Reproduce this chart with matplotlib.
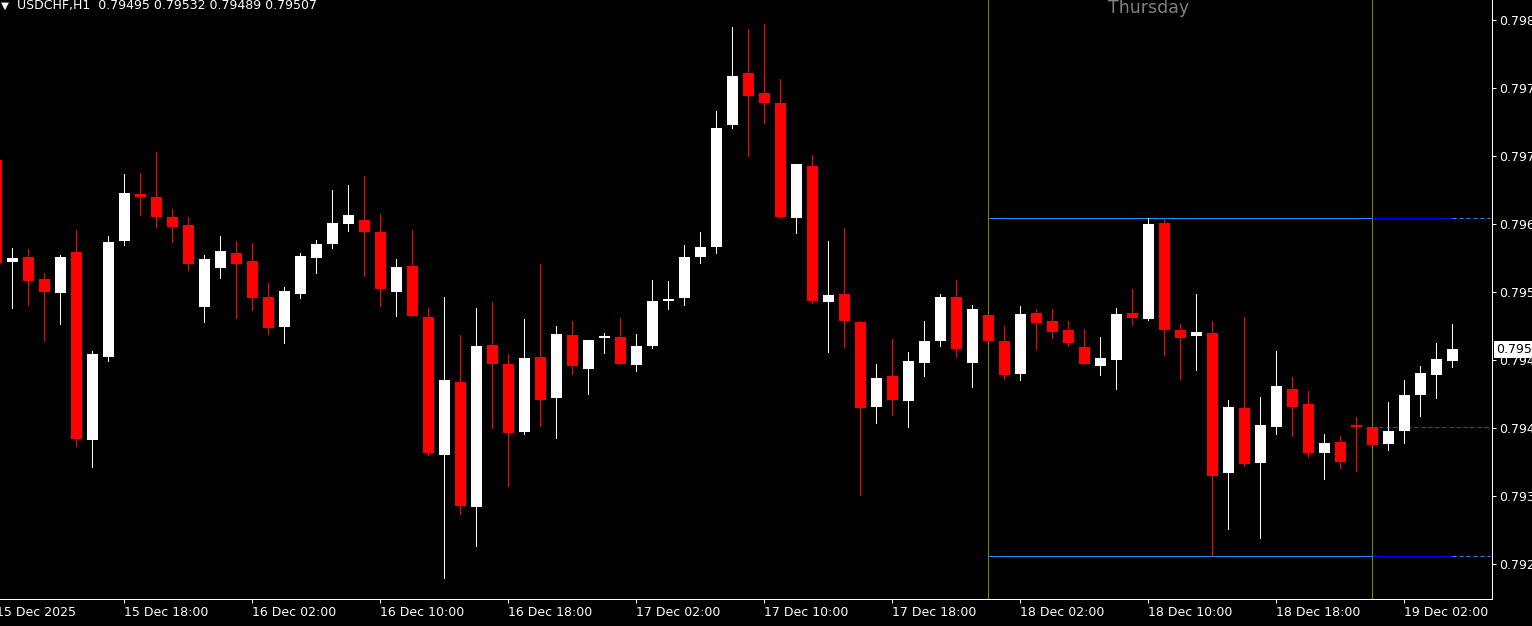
import numpy as np
import pandas as pd
import matplotlib
matplotlib.use("Agg")
import matplotlib.pyplot as plt
import matplotlib.transforms as mtransforms

# ---------------- data ----------------
symbol = "USDCHF,H1"
first_bar = "2025-12-15 10:00"

opens = [0.79696, 0.79594, 0.79599, 0.79577, 0.79563, 0.79604, 0.79416, 0.79499, 0.79615, 0.79662,
         0.79659, 0.79639, 0.79631, 0.79549, 0.79588, 0.79603, 0.79595, 0.79559, 0.79529, 0.79562,
         0.79598, 0.79612, 0.79632, 0.79636, 0.79624, 0.79564, 0.79590, 0.79539, 0.79401, 0.79474,
         0.79349, 0.79511, 0.79492, 0.79424, 0.79499, 0.79458, 0.79521, 0.79487, 0.79518, 0.79519,
         0.79491, 0.79510, 0.79555, 0.79558, 0.79599, 0.79609, 0.79731, 0.79783, 0.79763, 0.79753,
         0.79638, 0.79690, 0.79554, 0.79562, 0.79534, 0.79449, 0.79480, 0.79455, 0.79493, 0.79515,
         0.79559, 0.79493, 0.79541, 0.79515, 0.79482, 0.79543, 0.79535, 0.79526, 0.79509, 0.79490,
         0.79496, 0.79543, 0.79537, 0.79633, 0.79526, 0.79520, 0.79523, 0.79383, 0.79448, 0.79393,
         0.79429, 0.79467, 0.79452, 0.79403, 0.79414, 0.79431, 0.79429, 0.79412, 0.79425, 0.79461,
         0.79481, 0.79495]
highs = [0.79700, 0.79608, 0.79607, 0.79583, 0.79601, 0.79626, 0.79505, 0.79620, 0.79682, 0.79683,
         0.79704, 0.79647, 0.79639, 0.79601, 0.79620, 0.79615, 0.79613, 0.79573, 0.79569, 0.79603,
         0.79616, 0.79666, 0.79671, 0.79680, 0.79642, 0.79597, 0.79626, 0.79548, 0.79559, 0.79521,
         0.79548, 0.79554, 0.79502, 0.79537, 0.79592, 0.79530, 0.79535, 0.79516, 0.79523, 0.79538,
         0.79522, 0.79576, 0.79575, 0.79611, 0.79624, 0.79745, 0.79829, 0.79827, 0.79832, 0.79777,
         0.79692, 0.79701, 0.79615, 0.79628, 0.79535, 0.79492, 0.79517, 0.79504, 0.79535, 0.79562,
         0.79576, 0.79551, 0.79541, 0.79530, 0.79550, 0.79547, 0.79547, 0.79535, 0.79527, 0.79519,
         0.79548, 0.79567, 0.79638, 0.79637, 0.79532, 0.79562, 0.79535, 0.79456, 0.79539, 0.79459,
         0.79505, 0.79479, 0.79465, 0.79422, 0.79420, 0.79439, 0.79429, 0.79454, 0.79476, 0.79490,
         0.79513, 0.79532]
lows = [0.79590, 0.79548, 0.79551, 0.79515, 0.79532, 0.79410, 0.79389, 0.79495, 0.79611, 0.79641,
        0.79629, 0.79614, 0.79586, 0.79534, 0.79578, 0.79538, 0.79546, 0.79522, 0.79513, 0.79558,
        0.79583, 0.79608, 0.79625, 0.79580, 0.79550, 0.79540, 0.79540, 0.79401, 0.79278, 0.79342,
        0.79310, 0.79428, 0.79370, 0.79422, 0.79430, 0.79418, 0.79482, 0.79462, 0.79503, 0.79492,
        0.79485, 0.79508, 0.79547, 0.79551, 0.79593, 0.79603, 0.79728, 0.79700, 0.79733, 0.79638,
        0.79623, 0.79553, 0.79504, 0.79509, 0.79361, 0.79433, 0.79441, 0.79429, 0.79480, 0.79510,
        0.79499, 0.79469, 0.79515, 0.79477, 0.79476, 0.79507, 0.79518, 0.79510, 0.79492, 0.79481,
        0.79467, 0.79531, 0.79536, 0.79501, 0.79477, 0.79486, 0.79300, 0.79327, 0.79390, 0.79318,
        0.79422, 0.79420, 0.79399, 0.79377, 0.79388, 0.79385, 0.79411, 0.79406, 0.79413, 0.79440,
        0.79458, 0.79489]
closes = [0.79593, 0.79598, 0.79575, 0.79564, 0.79599, 0.79417, 0.79502, 0.79614, 0.79663, 0.79659,
          0.79639, 0.79629, 0.79592, 0.79597, 0.79605, 0.79592, 0.79558, 0.79528, 0.79565, 0.79600,
          0.79612, 0.79633, 0.79641, 0.79624, 0.79567, 0.79589, 0.79540, 0.79403, 0.79476, 0.79350,
          0.79510, 0.79492, 0.79423, 0.79498, 0.79456, 0.79522, 0.79490, 0.79516, 0.79520, 0.79492,
          0.79510, 0.79555, 0.79557, 0.79599, 0.79609, 0.79728, 0.79780, 0.79760, 0.79753, 0.79639,
          0.79692, 0.79555, 0.79561, 0.79535, 0.79448, 0.79478, 0.79456, 0.79495, 0.79515, 0.79559,
          0.79507, 0.79547, 0.79515, 0.79481, 0.79542, 0.79533, 0.79524, 0.79513, 0.79492, 0.79498,
          0.79542, 0.79538, 0.79632, 0.79526, 0.79518, 0.79524, 0.79380, 0.79449, 0.79392, 0.79431,
          0.79470, 0.79449, 0.79403, 0.79413, 0.79394, 0.79429, 0.79411, 0.79425, 0.79461, 0.79483,
          0.79497, 0.79507]

first_label = "15 Dec 2025"
date_tick_labels = ["15 Dec 18:00", "16 Dec 02:00", "16 Dec 10:00", "16 Dec 18:00",
                    "17 Dec 02:00", "17 Dec 10:00", "17 Dec 18:00", "18 Dec 02:00",
                    "18 Dec 10:00", "18 Dec 18:00", "19 Dec 02:00"]
price_ticks = [0.79836, 0.79768, 0.79700, 0.79632, 0.79564, 0.79496, 0.79428, 0.79360, 0.79292]
day_label = "Thursday"
highlight_day = 18

# ---------------- layout ----------------
W, H = 1532, 626
AX_W, AX_H = 1492, 599
BAR_PX = 16
PX = 0.72  # one pixel in points at 100 dpi
FS = 9.0

plt.rcParams["font.family"] = ["DejaVu Sans"]

times = pd.date_range(first_bar, periods=len(opens), freq="h")
x = np.arange(len(opens))
o = np.array(opens); h = np.array(highs); l = np.array(lows); c = np.array(closes)

fig = plt.figure(figsize=(W / 100, H / 100), dpi=100, facecolor="black")
ax = fig.add_axes([0, (H - AX_H) / H, AX_W / W, AX_H / H])
ax.set_facecolor("black")

# x scale: bar 8 (15 Dec 18:00) centred at pixel 124.3
x_left = 8 - 124.3 / BAR_PX
x_right = x_left + AX_W / BAR_PX
ax.set_xlim(x_left, x_right)
# y scale: 1 pixel = 1 point (0.00001)
y_top = c[-1] + 349.3e-5
y_bot = y_top - AX_H * 1e-5
ax.set_ylim(y_bot, y_top)

# day separators & levels
day_idx = np.where(times.day == highlight_day)[0]
s, e = day_idx[0], day_idx[-1] + 1
last = len(opens) - 1
for xv in (s, e):
    ax.axvline(xv, color="#808000", lw=PX, zorder=1)

day_hi = h[day_idx].max()
day_lo = l[day_idx].min()
x_dash_end = x_right - 2 / BAR_PX
for lvl in (day_hi, day_lo):
    ax.plot([s, e], [lvl, lvl], color="#1E90FF", lw=PX, zorder=2, solid_capstyle="butt")
    ax.plot([e, last], [lvl, lvl], color="#0000FF", lw=PX, zorder=2, solid_capstyle="butt")
    ax.plot([last, x_dash_end], [lvl, lvl], color="#1E90FF", lw=PX, zorder=2,
            dashes=(4, 3))
ax.plot([e, x_dash_end], [o[e], o[e]], color="#FF0000", lw=PX, zorder=2,
        dashes=(4, 3))

# candles
bull = c >= o
cols = np.where(bull, "#FFFFFF", "#FF0000")
ax.vlines(x, l, h, colors=cols, lw=PX, zorder=3, antialiased=False)
bottoms = np.minimum(o, c)
heights = np.maximum(np.abs(c - o), 1e-5)
ax.bar(x, heights, bottom=bottoms, width=11 / BAR_PX, color=cols, linewidth=0,
       zorder=4, antialiased=False)

# axes styling
for side in ("top", "left"):
    ax.spines[side].set_visible(False)
for side in ("right", "bottom"):
    ax.spines[side].set_color("white")
    ax.spines[side].set_linewidth(PX)

ax.yaxis.tick_right()
ax.set_yticks(price_ticks)
ax.set_yticklabels([f"{v:.5f}" for v in price_ticks])
ax.tick_params(axis="y", colors="white", direction="out", length=4 * PX, width=PX,
               pad=3 * PX, labelsize=FS)

tick_idx = np.where((times.hour % 8 == 2) & (times > times[0]))[0]
ax.set_xticks(tick_idx)
ax.set_xticklabels(date_tick_labels[:len(tick_idx)])
ax.tick_params(axis="x", colors="white", direction="out", length=4 * PX, width=PX,
               pad=2.5 * PX, labelsize=FS)
for t in ax.get_xticklabels():
    t.set_horizontalalignment("left")

# first bar date label (outside view on the left)
trans_x = mtransforms.blended_transform_factory(ax.transData, ax.transAxes)
ax.text(0, -(4 + 2.5) / AX_H, first_label, transform=trans_x, ha="left", va="top",
        color="white", fontsize=FS, clip_on=False)

# day name
ax.text(s + 10, 1 - 13 / AX_H, day_label, transform=trans_x, ha="center", va="baseline",
        color="#808080", fontsize=12.5, zorder=5)

# current price box
trans_y = mtransforms.blended_transform_factory(ax.transAxes, ax.transData)
ax.text(1 + 4.5 / AX_W, c[-1], f"{c[-1]:.5f}", transform=trans_y, ha="left", va="center",
        color="black", fontsize=FS, clip_on=False, zorder=6,
        bbox=dict(boxstyle="square,pad=0.18", facecolor="white", edgecolor="none"))

# header
fig.text(1 / W, 1 - 8.5 / H, "\u25BC", color="white", fontsize=7.5, ha="left", va="baseline")
fig.text(17 / W, 1 - 9.5 / H,
         f"{symbol}  {o[-1]:.5f} {h[-1]:.5f} {l[-1]:.5f} {c[-1]:.5f}",
         color="white", fontsize=FS, ha="left", va="baseline")

fig.savefig("out.png", dpi=100, facecolor="black")
